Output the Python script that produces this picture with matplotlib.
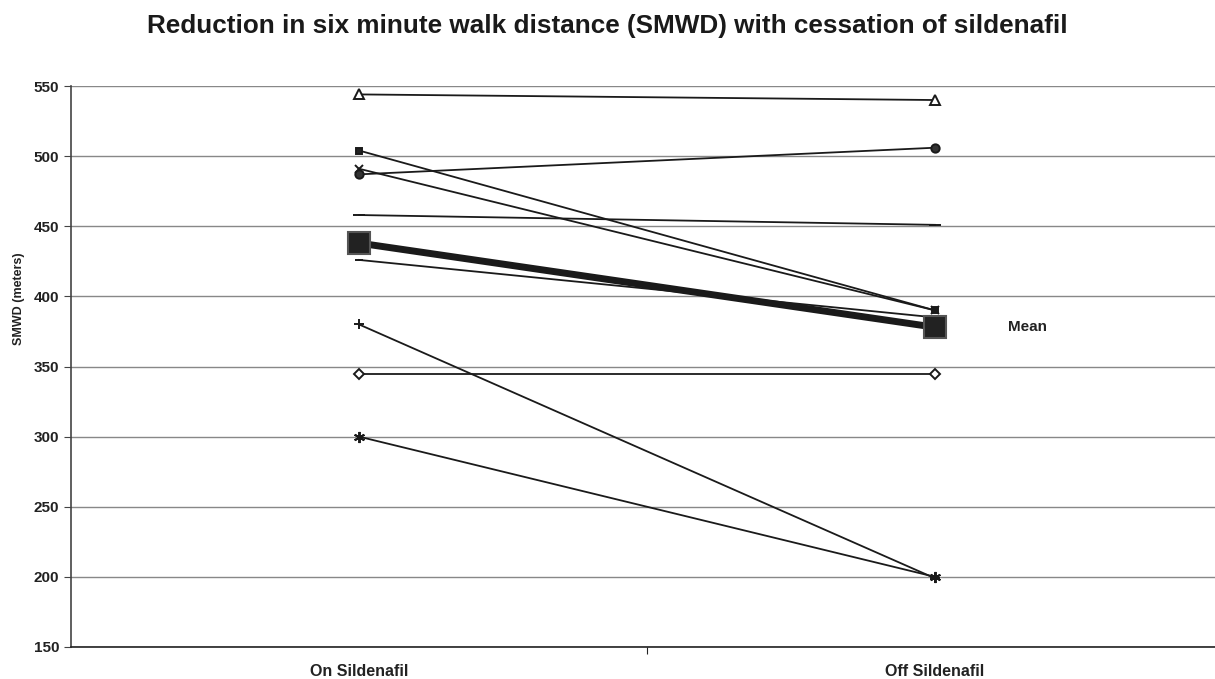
import matplotlib.pyplot as plt

plt.rcParams['font.family'] = ['Liberation Sans', 'DejaVu Sans']

groups = ["On Sildenafil", "Off Sildenafil"]

# individual patients: (on, off) and marker
triangle = [544, 540]
square = [504, 390]
cross = [491, 390]
circle = [487, 506]
dash = [458, 451]
short_dash = [426, 385]
plus = [380, 199]
diamond = [345, 345]
star = [300, 200]
mean = [438, 378]

patients = [
    (triangle, "^", 7, "white"),
    (square, "s", 5, "#222222"),
    (cross, "x", 6, "#222222"),
    (circle, "o", 6, "#333333"),
    (dash, "_", 8, "#222222"),
    (short_dash, "_", 6, "#222222"),
    (plus, "+", 7, "#222222"),
    (diamond, "D", 5, "white"),
    (star, (6, 2, 0), 8, "#222222"),
]

fig = plt.figure(figsize=(12.15, 6.79), dpi=100)
ax = fig.add_axes([71 / 1215, 1 - 647 / 679, 1 - 71 / 1215, (647 - 86) / 679])

x = [0, 1]
for vals, m, ms, fc in patients:
    ax.plot(x, vals, color="#1a1a1a", lw=1.3, marker=m, markersize=ms,
            markerfacecolor=fc, markeredgecolor="#1a1a1a", markeredgewidth=1.4,
            zorder=3)

ax.plot(x, mean, color="#1a1a1a", lw=5, marker="s", markersize=16,
        markerfacecolor="#222222", markeredgecolor="#555555",
        markeredgewidth=1.5, zorder=4)
ax.text(1.126, mean[1], "Mean", fontsize=11, fontweight="bold",
        va="center", ha="left", color="#222222")

ax.set_xlim(-0.5, -0.5 + 1144 / 576)
ax.set_ylim(150, 550)
ax.set_yticks(range(150, 551, 50))
ax.set_xticks([0.5])
ax.set_xticklabels([])
for xi, g in zip(x, groups):
    ax.text(xi, -0.03, g, transform=ax.get_xaxis_transform(), ha="center",
            va="top", fontsize=11.5, fontweight="bold", color="#222222")

ax.grid(axis="y", color="#888888", lw=1)
ax.set_axisbelow(True)
for s in ["top", "right"]:
    ax.spines[s].set_visible(False)
ax.spines["left"].set_color("#444444")
ax.spines["bottom"].set_color("#222222")
ax.spines["left"].set_linewidth(1.2)
ax.spines["bottom"].set_linewidth(1.2)
ax.tick_params(axis="y", length=5, color="#444444", labelsize=11,
               labelcolor="#222222")
ax.tick_params(axis="x", length=5, color="#222222")
for lab in ax.get_yticklabels():
    lab.set_fontweight("bold")

ax.set_ylabel("SMWD (meters)", fontsize=9, fontweight="bold",
              color="#222222")
ax.yaxis.set_label_coords(-0.04, 0.62)
fig.text(0.5, 1 - 33 / 679,
         "Reduction in six minute walk distance (SMWD) with cessation of sildenafil",
         ha="center", va="baseline", fontsize=18.8, fontweight="bold",
         color="#1a1a1a")

fig.savefig("out.png", dpi=100)
